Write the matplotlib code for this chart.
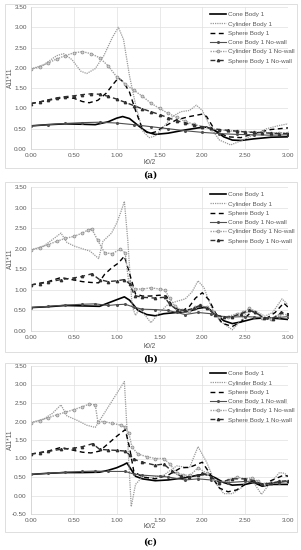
import matplotlib
matplotlib.use("Agg")
import matplotlib.pyplot as plt
from matplotlib.patches import Rectangle

# ---------------- DATA ----------------
labels = ["Cone Body 1", "Cylinder Body 1", "Sphere Body 1",
          "Cone Body 1 No-wall", "Cylinder Body 1 No-wall", "Sphere Body 1 No-wall"]
captions = ["(a)", "(b)", "(c)"]
xticks = [0.0, 0.5, 1.0, 1.5, 2.0, 2.5, 3.0]

# Panel (a)
a_cone_x = [0, 0.2, 0.4, 0.6, 0.75, 0.9, 1.0, 1.07, 1.15, 1.25, 1.35, 1.45, 1.6, 1.8, 1.95, 2.05, 2.15, 2.25, 2.35, 2.45, 2.6, 2.8, 3.0]
a_cone_y = [0.57, 0.60, 0.62, 0.61, 0.60, 0.67, 0.76, 0.80, 0.75, 0.58, 0.42, 0.36, 0.39, 0.47, 0.52, 0.54, 0.45, 0.30, 0.22, 0.21, 0.25, 0.29, 0.30]
a_cyl_x = [0, 0.15, 0.3, 0.38, 0.48, 0.58, 0.65, 0.75, 0.85, 0.95, 1.02, 1.08, 1.15, 1.22, 1.3, 1.38, 1.45, 1.55, 1.65, 1.75, 1.85, 1.93, 2.0, 2.1, 2.2, 2.33, 2.45, 2.6, 2.75, 2.9, 3.0]
a_cyl_y = [1.97, 2.08, 2.30, 2.35, 2.20, 1.92, 1.86, 1.98, 2.30, 2.75, 3.00, 2.70, 1.80, 1.10, 0.45, 0.28, 0.32, 0.55, 0.80, 0.92, 0.95, 1.08, 0.95, 0.51, 0.22, 0.10, 0.20, 0.35, 0.50, 0.58, 0.62]
a_sph_x = [0, 0.2, 0.4, 0.5, 0.6, 0.68, 0.78, 0.88, 0.96, 1.02, 1.08, 1.15, 1.22, 1.3, 1.38, 1.45, 1.55, 1.7, 1.85, 2.0, 2.05, 2.15, 2.3, 2.45, 2.6, 2.8, 3.0]
a_sph_y = [1.12, 1.20, 1.28, 1.25, 1.17, 1.14, 1.20, 1.38, 1.60, 1.75, 1.65, 1.40, 0.95, 0.50, 0.38, 0.42, 0.55, 0.72, 0.80, 0.86, 0.80, 0.45, 0.30, 0.28, 0.38, 0.48, 0.52]
a_conenw_x = [0, 0.2, 0.4, 0.6, 0.8, 1.0, 1.2, 1.4, 1.6, 1.8, 2.0, 2.2, 2.4, 2.6, 2.8, 3.0]
a_conenw_y = [0.57, 0.60, 0.63, 0.65, 0.66, 0.64, 0.60, 0.55, 0.50, 0.45, 0.41, 0.38, 0.36, 0.35, 0.34, 0.35]
a_cylnw_x = [0, 0.1, 0.2, 0.3, 0.4, 0.5, 0.6, 0.7, 0.8, 0.9, 1.0, 1.1, 1.2, 1.3, 1.4, 1.5, 1.6, 1.7, 1.8, 1.9, 2.0, 2.1, 2.2, 2.3, 2.4, 2.5, 2.6, 2.7, 2.8, 2.9, 3.0]
a_cylnw_y = [1.97, 2.02, 2.12, 2.22, 2.30, 2.37, 2.40, 2.35, 2.25, 2.05, 1.78, 1.60, 1.45, 1.30, 1.13, 1.00, 0.88, 0.78, 0.68, 0.61, 0.55, 0.50, 0.47, 0.45, 0.44, 0.43, 0.42, 0.41, 0.40, 0.40, 0.40]
a_sphnw_x = [0, 0.1, 0.2, 0.3, 0.4, 0.5, 0.6, 0.7, 0.8, 0.9, 1.0, 1.1, 1.2, 1.3, 1.4, 1.5, 1.6, 1.7, 1.8, 1.9, 2.0, 2.1, 2.2, 2.3, 2.4, 2.5, 2.6, 2.7, 2.8, 2.9, 3.0]
a_sphnw_y = [1.12, 1.16, 1.21, 1.26, 1.29, 1.31, 1.34, 1.36, 1.35, 1.30, 1.23, 1.15, 1.07, 0.99, 0.92, 0.85, 0.77, 0.70, 0.64, 0.59, 0.55, 0.51, 0.48, 0.46, 0.44, 0.42, 0.41, 0.40, 0.39, 0.38, 0.38]

# Panel (b)
b_cone_x = [0, 0.2, 0.4, 0.6, 0.8, 0.9, 1.0, 1.09, 1.15, 1.25, 1.35, 1.45, 1.55, 1.7, 1.85, 1.95, 2.05, 2.15, 2.25, 2.35, 2.45, 2.6, 2.75, 2.9, 3.0]
b_cone_y = [0.57, 0.59, 0.62, 0.61, 0.60, 0.68, 0.76, 0.83, 0.75, 0.50, 0.40, 0.37, 0.42, 0.45, 0.48, 0.55, 0.58, 0.42, 0.25, 0.18, 0.22, 0.30, 0.32, 0.30, 0.28]
b_cyl_x = [0, 0.15, 0.25, 0.35, 0.42, 0.51, 0.6, 0.69, 0.79, 0.84, 0.94, 1.0, 1.05, 1.09, 1.13, 1.18, 1.22, 1.27, 1.4, 1.5, 1.6, 1.7, 1.8, 1.88, 1.95, 2.02, 2.1, 2.2, 2.35, 2.45, 2.52, 2.58, 2.65, 2.73, 2.82, 2.93, 3.0]
b_cyl_y = [1.97, 2.07, 2.22, 2.38, 2.15, 2.06, 2.00, 1.94, 1.76, 2.18, 2.38, 2.62, 2.90, 3.15, 2.20, 0.60, 0.38, 0.55, 0.20, 0.45, 0.65, 0.72, 0.78, 0.95, 1.22, 1.05, 0.60, 0.25, 0.03, 0.25, 0.45, 0.52, 0.45, 0.36, 0.45, 0.78, 0.64]
b_sph_x = [0, 0.2, 0.35, 0.5, 0.6, 0.7, 0.79, 0.86, 0.95, 1.02, 1.09, 1.15, 1.22, 1.3, 1.4, 1.5, 1.58, 1.65, 1.76, 1.85, 1.92, 2.0, 2.08, 2.15, 2.23, 2.35, 2.45, 2.58, 2.65, 2.73, 2.85, 2.95, 3.0]
b_sph_y = [1.12, 1.20, 1.30, 1.24, 1.20, 1.18, 1.17, 1.38, 1.55, 1.65, 1.82, 1.40, 0.90, 0.85, 0.85, 0.87, 0.85, 0.60, 0.48, 0.60, 0.80, 0.93, 0.75, 0.45, 0.19, 0.11, 0.22, 0.48, 0.42, 0.28, 0.45, 0.68, 0.58]
b_conenw_x = [0, 0.2, 0.4, 0.6, 0.75, 0.9, 1.0, 1.1, 1.2, 1.3, 1.45, 1.6, 1.7, 1.8, 1.95, 2.1, 2.2, 2.35, 2.5, 2.6, 2.75, 2.9, 3.0]
b_conenw_y = [0.57, 0.60, 0.63, 0.65, 0.66, 0.62, 0.64, 0.65, 0.58, 0.53, 0.52, 0.50, 0.45, 0.40, 0.45, 0.42, 0.36, 0.34, 0.35, 0.34, 0.32, 0.33, 0.35]
b_cylnw_x = [0, 0.1, 0.2, 0.3, 0.4, 0.5, 0.6, 0.66, 0.71, 0.78, 0.86, 0.95, 1.04, 1.1, 1.14, 1.21, 1.3, 1.4, 1.5, 1.56, 1.62, 1.68, 1.76, 1.84, 1.92, 1.97, 2.05, 2.12, 2.2, 2.3, 2.4, 2.48, 2.55, 2.62, 2.7, 2.8, 2.9, 3.0]
b_cylnw_y = [1.97, 2.02, 2.10, 2.18, 2.25, 2.30, 2.38, 2.45, 2.48, 2.20, 1.90, 1.88, 1.99, 1.90, 1.20, 1.02, 1.02, 1.05, 1.02, 1.00, 0.80, 0.60, 0.50, 0.48, 0.58, 0.62, 0.58, 0.45, 0.35, 0.35, 0.42, 0.45, 0.55, 0.45, 0.32, 0.30, 0.40, 0.40]
b_sphnw_x = [0, 0.1, 0.2, 0.35, 0.5, 0.6, 0.71, 0.8, 0.9, 1.0, 1.09, 1.15, 1.21, 1.3, 1.45, 1.56, 1.62, 1.7, 1.8, 1.9, 1.97, 2.05, 2.15, 2.25, 2.35, 2.45, 2.55, 2.62, 2.72, 2.82, 2.92, 3.0]
b_sphnw_y = [1.12, 1.15, 1.19, 1.25, 1.29, 1.33, 1.39, 1.25, 1.20, 1.22, 1.25, 1.15, 0.86, 0.82, 0.80, 0.82, 0.65, 0.52, 0.50, 0.55, 0.62, 0.55, 0.40, 0.33, 0.35, 0.42, 0.50, 0.45, 0.32, 0.30, 0.45, 0.42]

# Panel (c)
c_cone_x = [0, 0.2, 0.4, 0.6, 0.8, 0.9, 1.0, 1.08, 1.12, 1.17, 1.22, 1.3, 1.45, 1.6, 1.8, 1.95, 2.05, 2.15, 2.25, 2.35, 2.5, 2.6, 2.7, 2.8, 2.9, 3.0]
c_cone_y = [0.57, 0.60, 0.62, 0.62, 0.63, 0.68, 0.75, 0.83, 0.88, 0.70, 0.52, 0.45, 0.40, 0.42, 0.48, 0.55, 0.58, 0.48, 0.35, 0.28, 0.30, 0.35, 0.25, 0.30, 0.30, 0.30]
c_cyl_x = [0, 0.15, 0.25, 0.35, 0.42, 0.55, 0.65, 0.75, 1.09, 1.13, 1.17, 1.22, 1.3, 1.4, 1.55, 1.7, 1.85, 1.95, 2.05, 2.15, 2.25, 2.35, 2.45, 2.52, 2.6, 2.69, 2.78, 2.9, 2.96, 3.0]
c_cyl_y = [1.97, 2.07, 2.22, 2.45, 2.15, 2.02, 1.90, 1.84, 3.08, 1.40, -0.30, 0.30, 0.50, 0.48, 0.55, 0.80, 0.75, 1.32, 0.90, 0.35, 0.05, 0.05, 0.20, 0.40, 0.35, 0.03, 0.30, 0.62, 0.60, 0.52]
c_sph_x = [0, 0.2, 0.35, 0.5, 0.6, 0.7, 0.8, 0.9, 1.0, 1.1, 1.15, 1.2, 1.3, 1.45, 1.6, 1.75, 1.85, 2.0, 2.1, 2.2, 2.3, 2.4, 2.5, 2.6, 2.7, 2.8, 2.95, 3.0]
c_sph_y = [1.12, 1.20, 1.30, 1.22, 1.17, 1.15, 1.20, 1.40, 1.60, 1.78, 1.30, 0.65, 0.50, 0.45, 0.55, 0.75, 0.76, 0.90, 0.55, 0.20, 0.10, 0.15, 0.30, 0.40, 0.25, 0.40, 0.55, 0.52]
c_conenw_x = [0, 0.2, 0.4, 0.6, 0.75, 0.9, 1.1, 1.2, 1.3, 1.5, 1.6, 1.8, 1.95, 2.1, 2.3, 2.5, 2.7, 2.9, 3.0]
c_conenw_y = [0.57, 0.60, 0.63, 0.65, 0.66, 0.65, 0.65, 0.58, 0.55, 0.52, 0.50, 0.42, 0.45, 0.42, 0.35, 0.38, 0.32, 0.35, 0.38]
c_cylnw_x = [0, 0.1, 0.2, 0.3, 0.4, 0.5, 0.6, 0.68, 0.75, 0.78, 0.85, 0.95, 1.05, 1.1, 1.14, 1.18, 1.25, 1.35, 1.45, 1.55, 1.62, 1.7, 1.78, 1.86, 1.95, 2.05, 2.12, 2.2, 2.3, 2.4, 2.5, 2.58, 2.65, 2.72, 2.8, 2.9, 3.0]
c_cylnw_y = [1.97, 2.02, 2.10, 2.18, 2.25, 2.32, 2.40, 2.47, 2.45, 2.00, 2.00, 1.95, 1.90, 1.85, 1.70, 1.30, 1.12, 1.05, 1.00, 1.00, 0.85, 0.62, 0.55, 0.55, 0.75, 0.60, 0.45, 0.35, 0.42, 0.50, 0.45, 0.48, 0.38, 0.30, 0.33, 0.38, 0.40]
c_sphnw_x = [0, 0.1, 0.2, 0.35, 0.5, 0.6, 0.72, 0.8, 0.9, 1.0, 1.1, 1.15, 1.2, 1.3, 1.45, 1.55, 1.65, 1.75, 1.85, 1.95, 2.0, 2.1, 2.2, 2.35, 2.5, 2.6, 2.7, 2.8, 2.9, 3.0]
c_sphnw_y = [1.12, 1.15, 1.19, 1.25, 1.28, 1.32, 1.40, 1.25, 1.23, 1.22, 1.20, 1.10, 0.98, 0.90, 0.82, 0.85, 0.65, 0.52, 0.50, 0.55, 0.60, 0.50, 0.35, 0.45, 0.45, 0.40, 0.30, 0.33, 0.38, 0.40]

panels = [
    [(a_cone_x, a_cone_y), (a_cyl_x, a_cyl_y), (a_sph_x, a_sph_y),
     (a_conenw_x, a_conenw_y), (a_cylnw_x, a_cylnw_y), (a_sphnw_x, a_sphnw_y)],
    [(b_cone_x, b_cone_y), (b_cyl_x, b_cyl_y), (b_sph_x, b_sph_y),
     (b_conenw_x, b_conenw_y), (b_cylnw_x, b_cylnw_y), (b_sphnw_x, b_sphnw_y)],
    [(c_cone_x, c_cone_y), (c_cyl_x, c_cyl_y), (c_sph_x, c_sph_y),
     (c_conenw_x, c_conenw_y), (c_cylnw_x, c_cylnw_y), (c_sphnw_x, c_sphnw_y)],
]
ylims = [(0.0, 3.5), (0.0, 3.5), (-0.5, 3.5)]

# ---------------- STYLE ----------------
styles = [
    dict(color="black", lw=1.2, ls="-"),
    dict(color="#9a9a9a", lw=0.9, ls=(0, (1, 0.8))),
    dict(color="black", lw=1.0, ls=(0, (3.5, 2.5))),
    dict(color="#505050", lw=0.8, ls="-", marker="o", ms=1.2, mfc="#505050", mec="#505050"),
    dict(color="#a0a0a0", lw=1.0, ls=(0, (1, 0.8)), marker="o", ms=2.1, mfc="#d0d0d0", mec="#8a8a8a", mew=0.5),
    dict(color="#303030", lw=1.0, ls=(0, (3.5, 2.5)), marker="^", ms=1.7, mfc="#303030", mec="#303030"),
]

plt.rcParams["font.family"] = ["Liberation Sans", "DejaVu Sans"]
W, H = 301, 550
fig = plt.figure(figsize=(W / 100, H / 100), dpi=100)

# pixel layout: (axes top, axes bottom, box top, box bottom, caption y, xlabel y)
layout = [
    (7, 149, 4, 168, 175, 163),
    (187, 331, 182, 352, 359, 347),
    (366, 514, 363, 532, 542, 526),
]
ax_left, ax_right = 31, 288

for i, (top, bot, btop, bbot, capy, xly) in enumerate(layout):
    fig.patches.append(Rectangle((5 / W, 1 - bbot / H), (297 - 5) / W, (bbot - btop) / H,
                                 transform=fig.transFigure, fill=False,
                                 edgecolor="#d9d9d9", lw=0.6))
    ax = fig.add_axes([ax_left / W, 1 - bot / H, (ax_right - ax_left) / W, (bot - top) / H])
    for (xs, ys), lab, st in zip(panels[i], labels, styles):
        ax.plot(xs, ys, label=lab, **st)
    ax.set_xlim(0, 3)
    ax.set_ylim(*ylims[i])
    ax.set_xticks(xticks)
    lo, hi = ylims[i]
    yt = [lo + 0.5 * k for k in range(int(round((hi - lo) / 0.5)) + 1)]
    ax.set_yticks(yt)
    ax.set_xticklabels([f"{v:.2f}" for v in xticks])
    ax.set_yticklabels([f"{v:.2f}" for v in yt])
    ax.grid(True, color="#e0e0e0", lw=0.5)
    ax.set_axisbelow(True)
    for s in ax.spines.values():
        s.set_visible(False)
    for side in ("bottom", "left"):
        ax.spines[side].set_visible(True)
        ax.spines[side].set_color("#d0d0d0")
        ax.spines[side].set_linewidth(0.5)
    ax.tick_params(length=0, labelsize=4.6, colors="#595959", pad=3)
    fig.text(150 / W, 1 - xly / H, "k0/2", ha="center", va="center", fontsize=4.7, color="#595959")
    fig.text(10 / W, 1 - (top + bot) / 2 / H, "A11*11", ha="center", va="center",
             rotation=90, fontsize=4.7, color="#595959")
    leg = ax.legend(loc="upper left", bbox_to_anchor=((210 - ax_left) / (ax_right - ax_left), 1.0 - 5 / (bot - top)),
                    frameon=False, fontsize=4.5, handlelength=2.5, handletextpad=0.3,
                    labelspacing=0.62, borderaxespad=0, borderpad=0)
    for t in leg.get_texts():
        t.set_color("#595959")
    fig.text(150 / W, 1 - capy / H, captions[i], ha="center", va="center",
             fontsize=6.5, fontweight="bold", family="DejaVu Serif")

fig.savefig("out.png", dpi=100)
